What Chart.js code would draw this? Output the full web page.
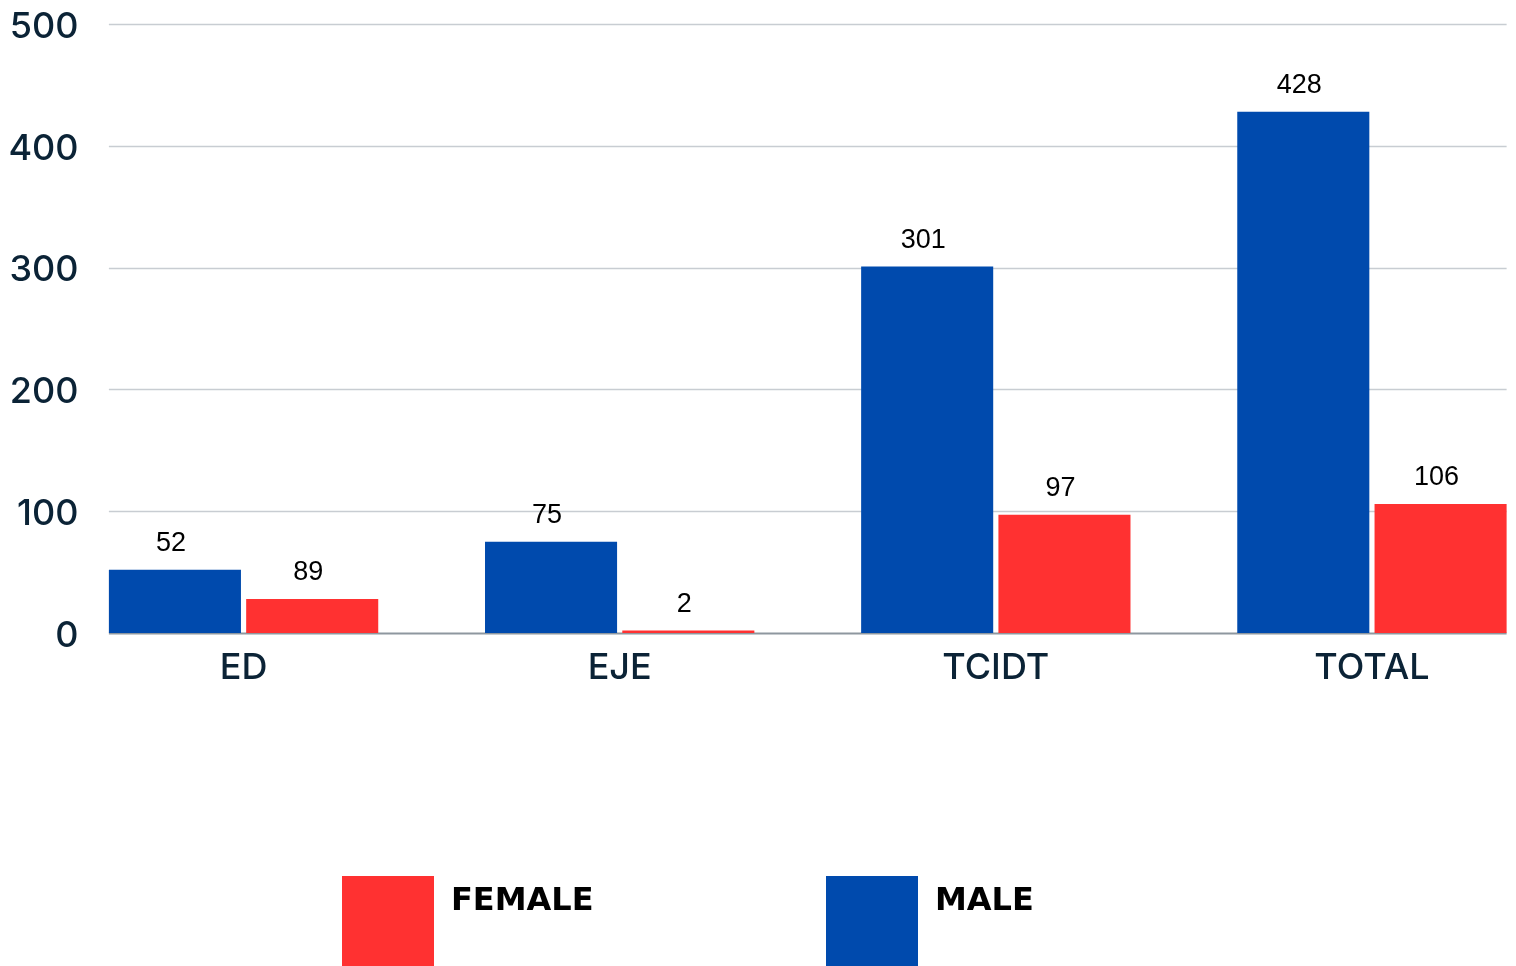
<!DOCTYPE html>
<html>
<head>
<meta charset="utf-8">
<script src="https://cdn.jsdelivr.net/npm/chart.js@4.4.0/dist/chart.umd.min.js"></script>
<style>
  html, body { margin: 0; padding: 0; background: #fff; overflow: hidden; }
  #wrap { position: relative; width: 1560px; height: 966px; }
  .legend-box { position: absolute; width: 92px; height: 90px; }
  .legend-text { position: absolute; font-family: "DejaVu Sans", sans-serif; font-weight: 700; font-size: 32px; line-height: 32px; color: #000; }
</style>
</head>
<body>
<div id="wrap">
  <canvas id="graph1"></canvas>
  <div id="legend"></div>
</div>
<script>
const categories = ["ED", "EJE", "TCIDT", "TOTAL"];
const maleValues = [52, 75, 301, 428];
const femaleValues = [28, 2, 97, 106];
const maleLabels = ["52", "75", "301", "428"];
const femaleLabels = ["89", "2", "97", "106"];
const yTicks = [0, 100, 200, 300, 400, 500];
const seriesNames = ["MALE", "FEMALE"];
const seriesColors = ["#004aad", "#ff3131"];

const tickFont = { family: "Inter, sans-serif", size: 36, weight: "500" };
const tickColor = "#0b2336";

// horizontal grid lines, spanning only the bar groups
const gridPlugin = {
  id: "grid",
  beforeDatasetsDraw(chart) {
    const ctx = chart.ctx;
    const y = chart.scales.y;
    const first = chart.getDatasetMeta(0).data[0];
    const last = chart.getDatasetMeta(1).data[categories.length - 1];
    const left = first.x - first.width / 2;
    const right = last.x + last.width / 2;
    ctx.save();
    yTicks.forEach(v => {
      const py = Math.round(y.getPixelForValue(v)) + 0.5;
      ctx.beginPath();
      ctx.lineWidth = v === 0 ? 2 : 1.3;
      ctx.strokeStyle = v === 0 ? "#8e979f" : "#c8cdd2";
      ctx.moveTo(left, py);
      ctx.lineTo(right, py);
      ctx.stroke();
    });
    // y tick labels (they reach into the plot area, so drawn here)
    ctx.font = `${tickFont.weight} ${tickFont.size}px ${tickFont.family}`;
    ctx.fillStyle = tickColor;
    ctx.textAlign = "right";
    ctx.textBaseline = "middle";
    yTicks.forEach(v => {
      ctx.fillText(String(v), 78.5, y.getPixelForValue(v) + 3);
    });
    ctx.restore();
  }
};

// numbers over the bars
const labelPlugin = {
  id: "barLabels",
  afterDatasetsDraw(chart) {
    const ctx = chart.ctx;
    const texts = [maleLabels, femaleLabels];
    ctx.save();
    ctx.font = "27px 'Liberation Sans', Arial, sans-serif";
    ctx.fillStyle = "#000";
    ctx.textAlign = "center";
    ctx.textBaseline = "middle";
    chart.data.datasets.forEach((ds, i) => {
      chart.getDatasetMeta(i).data.forEach((bar, j) => {
        ctx.fillText(texts[i][j], bar.x - 4, bar.y - 26);
      });
    });
    ctx.restore();
  }
};

const context = document.getElementById("graph1").getContext("2d");
new Chart(context, {
  type: "bar",
  data: {
    labels: categories,
    datasets: [
      {
        label: seriesNames[0],
        data: maleValues,
        backgroundColor: seriesColors[0],
        categoryPercentage: 0.73,
        barPercentage: 0.962,
      },
      {
        label: seriesNames[1],
        data: femaleValues,
        backgroundColor: seriesColors[1],
        categoryPercentage: 0.73,
        barPercentage: 0.962,
      },
    ],
  },
  options: {
    responsive: true,
    maintainAspectRatio: false,
    animation: false,
    layout: { padding: { top: 24, left: 0, right: 0, bottom: 0 } },
    plugins: {
      legend: { display: false },
      tooltip: { enabled: false },
    },
    scales: {
      x: {
        grid: { display: false, drawTicks: false },
        border: { display: false },
        ticks: { font: tickFont, color: tickColor, padding: 14 },
        afterFit: s => { s.height = 333; },
      },
      y: {
        min: 0,
        max: 500,
        grid: { display: false, drawTicks: false },
        border: { display: false },
        ticks: { display: false, stepSize: 100 },
        afterFit: s => { s.width = 55.5; },
      },
    },
  },
  plugins: [gridPlugin, labelPlugin],
});

// legend: female first, then male
const legend = document.getElementById("legend");
const legendItems = [
  { name: seriesNames[1], color: seriesColors[1], x: 342 },
  { name: seriesNames[0], color: seriesColors[0], x: 826 },
];
legendItems.forEach(item => {
  const box = document.createElement("div");
  box.className = "legend-box";
  box.style.left = item.x + "px";
  box.style.top = "876px";
  box.style.background = item.color;
  legend.appendChild(box);
  const txt = document.createElement("div");
  txt.className = "legend-text";
  txt.style.left = (item.x + 109) + "px";
  txt.style.top = "883px";
  txt.textContent = item.name;
  legend.appendChild(txt);
});
</script>
</body>
</html>
